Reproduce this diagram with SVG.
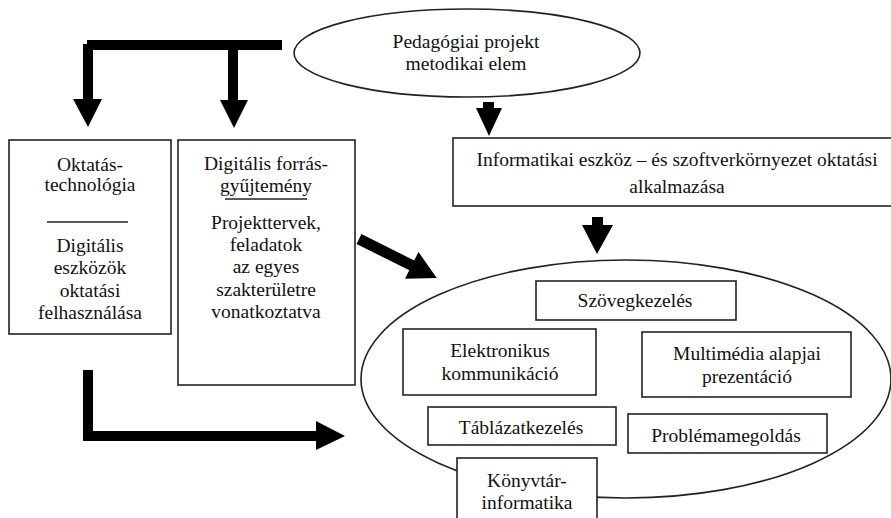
<svg xmlns="http://www.w3.org/2000/svg" width="891" height="518" viewBox="0 0 891 518">
<style>
  .box { fill: #fff; stroke: #222; stroke-width: 1.6; }
  .ell { fill: #fff; stroke: #222; stroke-width: 1.6; }
  .t { font-family: "Liberation Serif", "Times New Roman", serif; font-size: 19.5px; fill: #111; text-anchor: middle; }
  .rule { stroke: #222; stroke-width: 1.6; }
  .arr { fill: #000; stroke: none; }
</style>
<rect width="891" height="518" fill="#fff"/>

<g id="connectors">
  <!-- top bracket with two down arrows -->
  <polygon class="arr" points="282,40 282,50 238,50 238,100 248,100 234,128 220,100 228,100 228,50 93,50 93,99 102,99 88,127 73,99 83,99 83,44 87,44 87,40"/>
  <!-- arrow from ellipse to Informatikai box -->
  <polygon class="arr" points="483,102 494,102 494,108 502,108 489,136 476,108 483,108"/>
  <!-- arrow from Informatikai box to big ellipse -->
  <polygon class="arr" points="592,217 603,217 603,225 613,225 597,254 582,225 592,225"/>
  <!-- diagonal arrow -->
  <g transform="translate(359,239) rotate(26.6)">
    <polygon class="arr" points="0,-5.5 59,-5.5 59,-15 87,0 59,15 59,5.5 0,5.5"/>
  </g>
  <!-- bottom L arrow -->
  <polygon class="arr" points="83,370 93,370 93,431 316,431 316,421 345,436 316,450 316,441 84,441 83,441"/>
</g>

<g id="n-pedagogiai">
  <ellipse class="ell" cx="467" cy="53" rx="173" ry="44"/>
  <text class="t" x="466" y="48">Pedagógiai projekt</text>
  <text class="t" x="466" y="70">metodikai elem</text>
</g>

<g id="n-oktatas">
  <rect class="box" x="9" y="140" width="162" height="194"/>
  <text class="t" x="90" y="171">Oktatás-</text>
  <text class="t" x="90" y="191">technológia</text>
  <line class="rule" x1="47" y1="222" x2="128" y2="222"/>
  <text class="t" x="90" y="252">Digitális</text>
  <text class="t" x="90" y="274">eszközök</text>
  <text class="t" x="90" y="297">oktatási</text>
  <text class="t" x="90" y="319">felhasználása</text>
</g>

<g id="n-digitalis">
  <rect class="box" x="178" y="140" width="177" height="245"/>
  <text class="t" x="266" y="170">Digitális forrás-</text>
  <text class="t" x="266" y="192">gyűjtemény</text>
  <line class="rule" x1="225" y1="199" x2="307" y2="199"/>
  <text class="t" x="266" y="229">Projekttervek,</text>
  <text class="t" x="266" y="251">feladatok</text>
  <text class="t" x="266" y="273">az egyes</text>
  <text class="t" x="266" y="296">szakterületre</text>
  <text class="t" x="266" y="318">vonatkoztatva</text>
</g>

<g id="n-informatikai">
  <rect class="box" x="453" y="138" width="450" height="68"/>
  <text class="t" x="677" y="166">Informatikai eszköz – és szoftverkörnyezet oktatási</text>
  <text class="t" x="677" y="193">alkalmazása</text>
</g>

<g id="n-alkalmazasok">
  <ellipse class="ell" cx="626" cy="379" rx="265" ry="119"/>
</g>

<g id="n-szovegkezeles">
  <rect class="box" x="536" y="281" width="200" height="39"/>
  <text class="t" x="635" y="307">Szövegkezelés</text>
</g>

<g id="n-elektronikus">
  <rect class="box" x="403" y="329" width="193" height="66"/>
  <text class="t" x="500" y="357">Elektronikus</text>
  <text class="t" x="500" y="380">kommunikáció</text>
</g>

<g id="n-multimedia">
  <rect class="box" x="642" y="332" width="209" height="65"/>
  <text class="t" x="747" y="360">Multimédia alapjai</text>
  <text class="t" x="747" y="383">prezentáció</text>
</g>

<g id="n-tablazat">
  <rect class="box" x="428" y="407" width="188" height="38"/>
  <text class="t" x="521" y="434">Táblázatkezelés</text>
</g>

<g id="n-problema">
  <rect class="box" x="628" y="414" width="199" height="39"/>
  <text class="t" x="726" y="442">Problémamegoldás</text>
</g>

<g id="n-konyvtar">
  <rect class="box" x="457" y="458" width="140" height="70"/>
  <text class="t" x="527" y="487">Könyvtár-</text>
  <text class="t" x="527" y="509">informatika</text>
</g>
</svg>
